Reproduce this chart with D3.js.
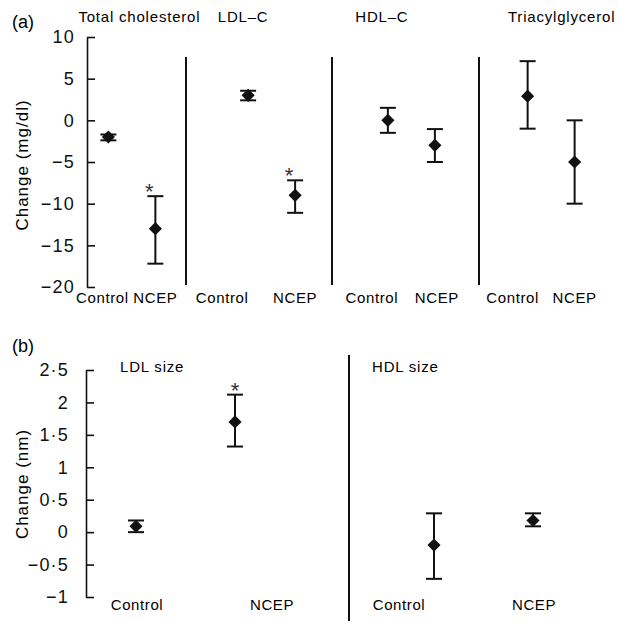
<!DOCTYPE html>
<html>
<head>
<meta charset="utf-8">
<script src="https://cdn.jsdelivr.net/npm/d3@7"></script>
<style>
  body { margin: 0; background: #fff; }
  svg { display: block; font-family: "Liberation Sans", Arial, Helvetica, sans-serif; }
  .axis text { font-size: 18px; letter-spacing: 1.2px; fill: #111; }
  .axis path, .axis line { stroke: #111; stroke-width: 1.6px; }
</style>
</head>
<body>
<script>
// ---- data ----
const groups = ["Control", "NCEP"];

// panel (a), change in mg/dl
const lipids = ["Total cholesterol", "LDL\u2013C", "HDL\u2013C", "Triacylglycerol"];
const lipidMean = [[-2, -13], [3, -9], [0, -3], [2.9, -5]];
const lipidLow  = [[-2.4, -17.2], [2.4, -11.1], [-1.5, -5], [-1, -10]];
const lipidHigh = [[-1.7, -9.1], [3.55, -7.2], [1.5, -1.05], [7.1, 0]];
const lipidSig  = [[false, true], [false, true], [false, false], [false, false]];
const lipidTicks = [10, 5, 0, -5, -10, -15, -20];
const lipidTickLabels = ["10", "5", "0", "\u22125", "\u221210", "\u221215", "\u221220"];

// panel (b), change in nm
const sizes = ["LDL size", "HDL size"];
const sizeMean = [[0.09, 1.7], [-0.2, 0.18]];
const sizeLow  = [[0.0, 1.32], [-0.72, 0.09]];
const sizeHigh = [[0.18, 2.12], [0.29, 0.29]];
const sizeSig  = [[false, true], [false, false]];
const sizeTicks = [2.5, 2, 1.5, 1, 0.5, 0, -0.5, -1];
const sizeTickLabels = ["2\u00b75", "2", "1\u00b75", "1", "0\u00b75", "0", "\u22120\u00b75", "\u22121"];

// ---- layout ----
const width = 619, height = 621;
const svg = d3.select("body").append("svg")
  .attr("width", width)
  .attr("height", height);

const diamond = d3.symbol().type(d3.symbolSquare).size(86);

function errorPanel(cfg) {
  const g = svg.append("g");

  const y = d3.scaleLinear().domain(cfg.domain).range(cfg.yRange);

  const yAxis = d3.axisLeft(y)
    .tickValues(cfg.ticks)
    .tickFormat((d, i) => cfg.tickLabels[i])
    .tickSize(-8)
    .tickSizeOuter(0)
    .tickPadding(cfg.tickPad);

  g.append("g")
    .attr("class", "axis")
    .attr("transform", `translate(${cfg.axisX},0)`)
    .call(yAxis);

  // y title
  g.append("text")
    .attr("transform", `translate(28,${cfg.titleY}) rotate(-90)`)
    .attr("text-anchor", "middle")
    .style("font-size", "17px")
    .style("letter-spacing", "1px")
    .text(cfg.yTitle);

  // panel letter
  g.append("text")
    .attr("x", 12)
    .attr("y", cfg.letterY)
    .style("font-size", "18px")
    .text(cfg.letter);

  const band = d3.scaleBand().domain(cfg.cats).range(cfg.bandRange);
  const inner = d3.scalePoint().domain(groups).range(cfg.inner);

  // separators
  g.selectAll("line.sep")
    .data(cfg.sepX)
    .enter().append("line")
    .attr("class", "sep")
    .attr("x1", d => d).attr("x2", d => d)
    .attr("y1", cfg.sepY[0]).attr("y2", cfg.sepY[1])
    .style("stroke", "#111")
    .style("stroke-width", 2);

  const pts = [];
  cfg.cats.forEach((c, i) => {
    groups.forEach((gr, j) => {
      pts.push({
        cat: c, i: i, group: gr,
        mean: cfg.mean[i][j], low: cfg.low[i][j], high: cfg.high[i][j],
        sig: cfg.sig[i][j],
        x: band(c) + band.bandwidth() / 2 + inner(gr)
      });
    });
  });

  const pt = g.selectAll("g.pt")
    .data(pts)
    .enter().append("g")
    .attr("class", "pt");

  pt.append("line")
    .attr("x1", d => d.x).attr("x2", d => d.x)
    .attr("y1", d => y(d.high)).attr("y2", d => y(d.low))
    .style("stroke", "#111").style("stroke-width", 2);

  pt.selectAll("line.cap")
    .data(d => [[d.x, d.high], [d.x, d.low]])
    .enter().append("line")
    .attr("class", "cap")
    .attr("x1", d => d[0] - 8).attr("x2", d => d[0] + 8)
    .attr("y1", d => y(d[1])).attr("y2", d => y(d[1]))
    .style("stroke", "#111").style("stroke-width", 2);

  pt.append("path")
    .attr("d", diamond)
    .attr("transform", d => `translate(${d.x},${y(d.mean)}) rotate(45)`)
    .style("fill", "#111");

  pt.filter(d => d.sig).append("text")
    .attr("x", d => d.x + cfg.starDx)
    .attr("y", d => y(d.high) + 3)
    .attr("text-anchor", "middle")
    .style("font-size", "22px")
    .style("fill", "#333")
    .text("*");

  // titles
  g.selectAll("text.cat")
    .data(cfg.cats)
    .enter().append("text")
    .attr("class", "cat")
    .attr("x", (d, i) => band(d) + band.bandwidth() / 2 + cfg.titleDx[i])
    .attr("y", cfg.catTitleY)
    .attr("text-anchor", cfg.titleAnchor)
    .style("font-size", "15px")
    .style("letter-spacing", "0.8px")
    .text(d => d);

  // group labels
  g.selectAll("text.grp")
    .data(pts)
    .enter().append("text")
    .attr("class", "grp")
    .attr("x", d => d.x + cfg.labelDx[d.i][groups.indexOf(d.group)])
    .attr("y", cfg.labelY)
    .attr("text-anchor", "middle")
    .style("font-size", "15px")
    .style("letter-spacing", "0.6px")
    .text(d => d.group);
}

errorPanel({
  letter: "(a)", letterY: 28,
  domain: [-20, 10], yRange: [287, 37],
  ticks: lipidTicks, tickLabels: lipidTickLabels, tickPad: 12,
  axisX: 87, yTitle: "Change (mg/dl)", titleY: 165,
  cats: lipids, bandRange: [62.5, 621.5], inner: [-24, 23],
  mean: lipidMean, low: lipidLow, high: lipidHigh, sig: lipidSig,
  sepX: [186, 332, 479], sepY: [57, 285],
  starDx: -6,
  titleDx: [7, -29, -30, 10], titleAnchor: "middle", catTitleY: 22,
  labelDx: [[-6, 0], [-26, 0], [-16, 2], [-15, 0]], labelY: 303
});

errorPanel({
  letter: "(b)", letterY: 352,
  domain: [-1, 2.5], yRange: [597, 370],
  ticks: sizeTicks, tickLabels: sizeTickLabels, tickPad: 17,
  axisX: 86, yTitle: "Change (nm)", titleY: 484,
  cats: sizes, bandRange: [36.5, 632.5], inner: [-49.5, 49.5],
  mean: sizeMean, low: sizeLow, high: sizeHigh, sig: sizeSig,
  sepX: [349], sepY: [355, 621],
  starDx: 0,
  titleDx: [-65.5, -111.5], titleAnchor: "start", catTitleY: 372,
  labelDx: [[1, 37], [-35, 1]], labelY: 610
});
</script>
</body>
</html>
